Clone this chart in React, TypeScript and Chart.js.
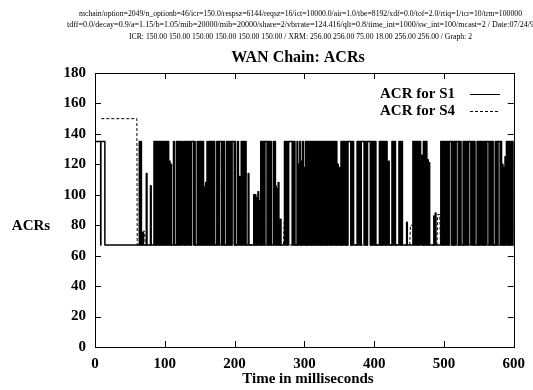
import React, { useEffect, useRef } from "react";
import { Chart, registerables } from "chart.js";

Chart.register(...registerables);

const headerLines = [
  "mchain/option=2049/n_optionb=46/icr=150.0/respsz=6144/reqsz=16/ict=10000.0/air=1.0/tbe=8192/xdf=0.0/tof=2.0/rtiq=1/tcr=10/trm=100000",
  "tdff=0.0/decay=0.9/a=1.15/b=1.05/mib=20000/mib=20000/share=2/vbrrate=124.416/qlt=0.8/time_int=1000/sw_int=100/mcast=2 / Date:07/24/9",
  "ICR: 150.00 150.00 150.00 150.00 150.00 150.00 / XRM: 256.00 256.00 75.00 18.00 256.00 256.00 / Graph: 2",
];
const headerWidths = [443, 467, 343];
const chartTitle = "WAN Chain: ACRs";
const xTitle = "Time in milliseconds";
const yTitle = "ACRs";
const seriesNames = ["ACR for S1", "ACR for S4"];
const xTicks = [0, 100, 200, 300, 400, 500, 600];
const yTicks = [0, 20, 40, 60, 80, 100, 120, 140, 160, 180];

// S1: start-up points [time ms, ACR]
const s1Head: [number, number][] = [
  [0, 150], [0.5, 135], [8, 135], [8.3, 67], [8.6, 135], [14, 135], [14.3, 67], [63, 67],
];
// S1: samples every 1 ms from t = 64 ms
const s1Start = 64;
const s1Values = [
  135, 67, 135, 67, 67, 75,
  67, 67, 67, 67, 114, 67, 67, 67, 67, 67,
  106, 67, 67, 67, 67, 135, 67, 135, 67, 135,
  67, 135, 67, 135, 67, 135, 67, 135, 67, 135,
  67, 135, 67, 135, 67, 135, 67, 122, 67, 120,
  67, 67, 67, 135, 67, 67, 67, 135, 67, 135,
  67, 135, 67, 135, 67, 135, 118, 67, 135, 67,
  135, 67, 135, 67, 135, 120, 67, 135, 67, 135,
  135, 135, 67, 135, 67, 67, 67, 135, 67, 135,
  67, 135, 67, 135, 67, 135, 67, 105, 67, 108,
  67, 135, 67, 135, 67, 135, 67, 135, 67, 135,
  67, 135, 67, 67, 67, 135, 67, 135, 67, 135,
  135, 135, 67, 135, 67, 135, 67, 67, 67, 135,
  67, 135, 67, 135, 67, 135, 67, 135, 135, 135,
  67, 135, 67, 67, 67, 135, 67, 112, 67, 67,
  135, 67, 135, 67, 135, 67, 135, 67, 67, 67,
  114, 67, 67, 67, 67, 67, 67, 67, 100, 67,
  100, 67, 98, 67, 102, 67, 96, 67, 135, 67,
  135, 67, 135, 67, 135, 135, 135, 67, 135, 67,
  135, 67, 135, 67, 67, 67, 135, 67, 135, 106,
  67, 104, 67, 108, 67, 67, 84, 67, 67, 67,
  67, 67, 135, 67, 135, 67, 135, 67, 135, 135,
  135, 135, 135, 67, 135, 67, 135, 67, 67, 67,
  135, 67, 120, 67, 135, 67, 122, 67, 135, 67,
  118, 67, 135, 67, 135, 67, 135, 67, 135, 67,
  135, 67, 135, 67, 135, 67, 135, 67, 135, 67,
  135, 67, 135, 67, 135, 67, 135, 67, 135, 67,
  135, 67, 135, 67, 135, 67, 135, 67, 135, 67,
  135, 67, 135, 67, 135, 67, 135, 67, 120, 67,
  118, 67, 67, 135, 67, 135, 67, 135, 67, 135,
  67, 135, 67, 135, 135, 135, 135, 67, 135, 67,
  135, 67, 67, 67, 67, 67, 135, 67, 135, 67,
  135, 67, 135, 135, 135, 135, 67, 135, 67, 135,
  67, 135, 135, 135, 135, 67, 135, 67, 135, 67,
  135, 67, 135, 67, 67, 67, 67, 67, 135, 67,
  135, 67, 135, 67, 135, 67, 135, 67, 135, 120,
  67, 122, 67, 67, 67, 67, 135, 67, 135, 67,
  135, 67, 67, 67, 67, 67, 135, 67, 135, 67,
  135, 67, 67, 67, 67, 67, 67, 82, 67, 67,
  67, 67, 67, 67, 67, 67, 135, 67, 135, 67,
  135, 67, 135, 67, 135, 67, 135, 124, 67, 126,
  67, 135, 67, 135, 67, 135, 67, 123, 67, 121,
  67, 67, 67, 67, 67, 67, 86, 67, 88, 67,
  67, 67, 67, 67, 67, 67, 135, 67, 135, 67,
  135, 67, 135, 67, 135, 67, 135, 67, 135, 135,
  135, 67, 135, 67, 135, 67, 135, 67, 135, 135,
  135, 67, 135, 67, 135, 67, 67, 67, 135, 67,
  135, 67, 135, 67, 135, 67, 135, 135, 135, 67,
  135, 67, 135, 67, 135, 67, 67, 67, 135, 67,
  135, 67, 135, 67, 135, 67, 135, 67, 135, 67,
  135, 67, 135, 135, 135, 67, 135, 67, 135, 67,
  135, 67, 67, 67, 135, 67, 135, 67, 135, 135,
  135, 67, 135, 67, 120, 67, 118, 67, 125, 67,
  135, 67, 135, 67, 135, 67, 135, 67, 135, 67,
  135,
];
// S4: [time ms, ACR]
const s4Points: [number, number][] = [
  [9, 150], [60, 150], [60.5, 67], [68, 67], [69, 76], [71, 76], [72, 67],
  [270, 67], [271, 82], [274, 82], [275, 67], [451, 67], [452, 80], [456, 80],
  [457, 67], [490, 67], [491, 87], [494, 87], [495, 67], [600, 67],
];

const FONT = "'Liberation Serif', 'Times New Roman', serif";

const decorPlugin = {
  id: "decor",
  afterDraw(chart: any) {
    const { ctx, chartArea: a, scales } = chart;
    const xs = scales.x;
    const ys = scales.y;
    ctx.save();
    ctx.strokeStyle = "#000";
    ctx.lineWidth = 1;
    ctx.setLineDash([]);
    ctx.strokeRect(Math.round(a.left) + 0.5, Math.round(a.top) + 0.5, Math.round(a.right - a.left), Math.round(a.bottom - a.top));
    const tl = 6;
    ctx.beginPath();
    xTicks.forEach((v) => {
      const px = Math.round(xs.getPixelForValue(v)) + 0.5;
      ctx.moveTo(px, a.bottom);
      ctx.lineTo(px, a.bottom - tl);
      ctx.moveTo(px, a.top);
      ctx.lineTo(px, a.top + tl);
    });
    yTicks.forEach((v) => {
      const py = Math.round(ys.getPixelForValue(v)) + 0.5;
      ctx.moveTo(a.left, py);
      ctx.lineTo(a.left + tl, py);
      ctx.moveTo(a.right, py);
      ctx.lineTo(a.right - tl, py);
    });
    ctx.stroke();

    ctx.fillStyle = "#000";
    ctx.textBaseline = "middle";
    ctx.textAlign = "center";
    ctx.font = `8.5px ${FONT}`;
    headerLines.forEach((t, i) => ctx.fillText(t, 300.5, 13.3 + i * 11.7, headerWidths[i]));
    ctx.font = `bold 16px ${FONT}`;
    ctx.fillText(chartTitle, 298, 58);
    ctx.font = `bold 15px ${FONT}`;
    ctx.fillText(xTitle, 308, 379);
    ctx.fillText(yTitle, 31, 226);
    ctx.textAlign = "right";
    ctx.fillText(seriesNames[0], 455, 94);
    ctx.fillText(seriesNames[1], 455, 111);
    ctx.beginPath();
    ctx.moveTo(470, 94.5);
    ctx.lineTo(500, 94.5);
    ctx.stroke();
    ctx.setLineDash([3, 2]);
    ctx.beginPath();
    ctx.moveTo(470, 111.5);
    ctx.lineTo(500, 111.5);
    ctx.stroke();
    ctx.restore();
  },
};

export default function App() {
  const ref = useRef<HTMLCanvasElement | null>(null);
  useEffect(() => {
    if (!ref.current) return;
    const s1 = s1Head
      .map(([x, y]) => ({ x, y }))
      .concat(s1Values.map((y, i) => ({ x: s1Start + i, y })));
    const s4 = s4Points.map(([x, y]) => ({ x, y }));
    const chart = new Chart(ref.current, {
      type: "line",
      data: {
        datasets: [
          {
            label: seriesNames[0],
            data: s1,
            borderColor: "#000",
            borderWidth: 1.5,
            borderJoinStyle: "round",
            pointRadius: 0,
            stepped: "middle",
            fill: false,
          },
          {
            label: seriesNames[1],
            data: s4,
            borderColor: "#000",
            borderWidth: 1,
            borderDash: [3, 2],
            pointRadius: 0,
            tension: 0,
            fill: false,
          },
        ],
      },
      options: {
        animation: false,
        responsive: false,
        devicePixelRatio: 1,
        events: [],
        layout: { padding: { left: 0, right: 18, top: 73, bottom: 0 } },
        plugins: { legend: { display: false }, tooltip: { enabled: false }, title: { display: false } },
        scales: {
          x: {
            type: "linear",
            min: 0,
            max: 600,
            afterBuildTicks: (s: any) => {
              s.ticks = xTicks.map((v) => ({ value: v }));
            },
            afterFit: (s: any) => {
              s.height = 43;
            },
            grid: { display: false, drawTicks: false },
            border: { display: false },
            ticks: { color: "#000", padding: 8, maxRotation: 0, font: { family: FONT, size: 15, weight: "bold" } },
          },
          y: {
            type: "linear",
            min: 0,
            max: 180,
            afterBuildTicks: (s: any) => {
              s.ticks = yTicks.map((v) => ({ value: v }));
            },
            afterFit: (s: any) => {
              s.width = 95;
            },
            grid: { display: false, drawTicks: false },
            border: { display: false },
            ticks: { color: "#000", padding: 9, font: { family: FONT, size: 15, weight: "bold" } },
          },
        },
      },
      plugins: [decorPlugin],
    });
    return () => chart.destroy();
  }, []);
  return (
    <div style={{ position: "fixed", left: 0, top: 0, width: 533, height: 390, background: "#fff" }}>
      <canvas ref={ref} width={533} height={390} style={{ width: 533, height: 390, display: "block" }} />
    </div>
  );
}
